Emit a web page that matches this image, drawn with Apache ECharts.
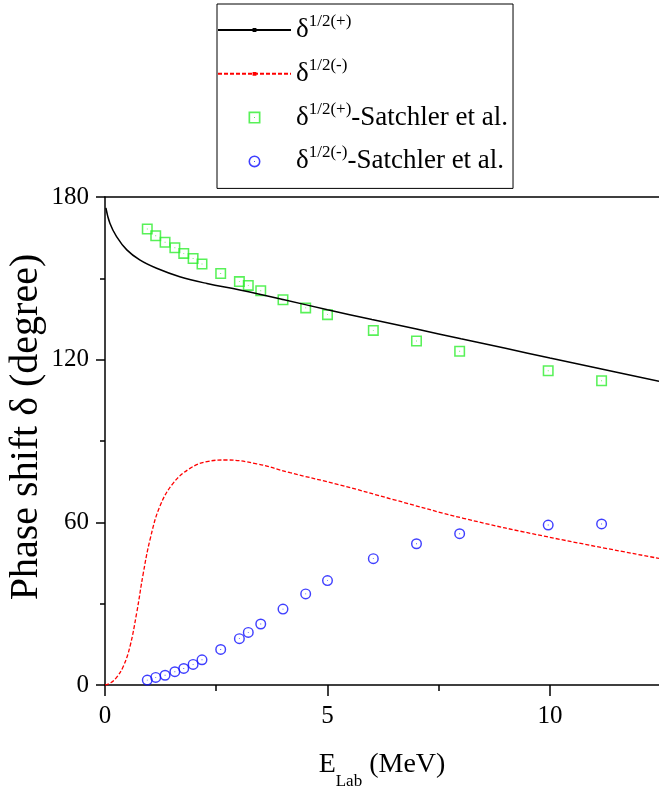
<!DOCTYPE html>
<html>
<head>
<meta charset="utf-8">
<script src="https://cdn.jsdelivr.net/npm/echarts@6/dist/echarts.min.js"></script>
<style>
  html, body { margin: 0; padding: 0; background: #fff; }
  #chart { width: 659px; height: 788px; }
</style>
</head>
<body>
<div id="chart"></div>
<script>
// Calculated phase shifts (degrees) versus lab energy (MeV)
const calcPlusE = [0.02, 0.11, 0.26, 0.49, 0.78, 1.16, 1.68, 2.29, 3.03, 4.0, 5.0, 6.0, 7.0, 8.0, 9.0, 10.0, 11.0, 12.45];
const calcPlusPhase = [176, 170.3, 165.4, 160.5, 156.8, 153.7, 150.6, 148.1, 145.7, 142.2, 138.4, 134.8, 131.3, 127.7, 124.2, 120.6, 117.1, 112.0];

const calcMinusE = [0, 0.13, 0.26, 0.41, 0.56, 0.71, 0.86, 1.01, 1.23, 1.53, 1.91, 2.29, 2.73, 3.41, 4.16, 5.28, 6.48, 8.05, 9.93, 12.45];
const calcMinusPhase = [0, 0.8, 2.8, 6.8, 14.1, 26.4, 41.2, 53.5, 65.8, 74.4, 79.9, 82.4, 83.0, 81.6, 78.3, 73.8, 68.4, 61.5, 54.7, 46.7];

// Satchler et al. phase shifts
const satchlerE = [0.95, 1.14, 1.35, 1.57, 1.77, 1.98, 2.18, 2.6, 3.02, 3.22, 3.5, 4.0, 4.51, 5.0, 6.03, 7.0, 7.97, 9.96, 11.16];
const satchlerPlus = [168.2, 165.7, 163.3, 161.3, 159.2, 157.3, 155.3, 151.8, 148.8, 147.4, 145.4, 142.1, 139.1, 136.6, 130.8, 126.9, 123.1, 115.9, 112.2];
const satchlerMinus = [1.8, 2.8, 3.6, 4.9, 6.1, 7.6, 9.3, 13.1, 17.1, 19.4, 22.5, 28.0, 33.6, 38.5, 46.6, 52.1, 55.8, 59.0, 59.4];

const seriesNames = ['δ1/2(+)', 'δ1/2(-)', 'δ1/2(+)-Satchler et al.', 'δ1/2(-)-Satchler et al.'];
const xMajorTicks = [0, 5, 10];
const xMinorTicks = [2.5, 7.5];

const FONT = 'Liberation Serif';
const INK = '#000';
const GREEN = '#2eee2e';
const BLUE = '#0f0fff';
const RED = '#ff0000';

// Open square / open circle with a small centre dot; tiny square for line series
const squareSymbol = 'path://M0,0H10V10H0Z M1.4,1.4V8.6H8.6V1.4Z M4.6,4.6H5.4V5.4H4.6Z';
const circleSymbol = 'path://M5,0A5,5 0 1,1 5,10A5,5 0 1,1 5,0Z M5,1.3A3.7,3.7 0 1,0 5,8.7A3.7,3.7 0 1,0 5,1.3Z M4.6,4.6H5.4V5.4H4.6Z';
const dotSymbol = 'path://M0,0Z M10,10Z M3,3H7V7H3Z';

const toPoints = (xs, ys) => xs.map((x, i) => [x, ys[i]]);

function legendLabel(name) {
  const m = name.match(/^δ(1\/2\([+-]\))(.*)$/);
  let s = '{g|δ}{s|' + m[1] + '}';
  if (m[2]) s += '{t|' + m[2] + '}';
  return s;
}

const axisLineStyle = { color: INK, width: 1.5 };
const tickFont = { fontFamily: FONT, fontSize: 25, color: INK };

const chart = echarts.init(document.getElementById('chart'), null, { renderer: 'canvas' });

chart.setOption({
  animation: false,
  backgroundColor: '#fff',
  grid: { left: 105, right: 0, top: 197, bottom: 103, containLabel: false, outerBoundsMode: 'none' },
  legend: {
    left: 217,
    top: 4,
    orient: 'vertical',
    align: 'left',
    itemWidth: 73,
    itemHeight: 12,
    itemGap: 13.3,
    padding: [9, 5, 13.5, 0],
    borderColor: INK,
    borderWidth: 1,
    selectedMode: false,
    data: [
      { name: seriesNames[0], itemStyle: { borderWidth: 0 } },
      { name: seriesNames[1], itemStyle: { borderWidth: 0 } },
      { name: seriesNames[2] },
      { name: seriesNames[3] }
    ],
    formatter: legendLabel,
    textStyle: {
      color: INK,
      fontFamily: FONT,
      fontSize: 27,
      rich: {
        g: { fontFamily: FONT, fontSize: 27, lineHeight: 34, color: INK },
        s: { fontFamily: FONT, fontSize: 17, lineHeight: 13, verticalAlign: 'top', color: INK },
        t: { fontFamily: FONT, fontSize: 27, lineHeight: 34, color: INK }
      }
    }
  },
  xAxis: [
    {
      type: 'value',
      position: 'bottom',
      min: 0,
      max: 12.45,
      interval: 5,
      axisLine: { show: true, lineStyle: axisLineStyle },
      axisTick: { show: true, length: 11, customValues: xMajorTicks, lineStyle: axisLineStyle },
      minorTick: { show: false },
      axisLabel: Object.assign({ margin: 19, customValues: xMajorTicks }, tickFont),
      splitLine: { show: false },
      name: '{m|E}{sub|Lab}{m| (MeV)}',
      nameLocation: 'middle',
      nameGap: 53.5,
      nameMoveOverlap: false,
      nameTextStyle: {
        color: INK,
        fontFamily: FONT,
        rich: {
          m: { fontFamily: FONT, fontSize: 28, lineHeight: 52, color: INK },
          sub: { fontFamily: FONT, fontSize: 17, lineHeight: 17, verticalAlign: 'bottom', color: INK }
        }
      }
    },
    {
      type: 'value',
      position: 'bottom',
      min: 0,
      max: 12.45,
      interval: 5,
      axisLine: { show: false },
      axisTick: { show: true, length: 6, customValues: xMinorTicks, lineStyle: axisLineStyle },
      axisLabel: { show: false },
      splitLine: { show: false }
    },
    {
      type: 'value',
      position: 'top',
      min: 0,
      max: 12.45,
      interval: 5,
      axisLine: { show: true, lineStyle: axisLineStyle },
      axisTick: { show: false },
      axisLabel: { show: false },
      splitLine: { show: false }
    }
  ],
  yAxis: {
    type: 'value',
    min: 0,
    max: 180,
    interval: 60,
    axisLine: { show: true, lineStyle: axisLineStyle },
    axisTick: { show: true, length: 9, lineStyle: axisLineStyle },
    minorTick: { show: true, splitNumber: 2, length: 5, lineStyle: axisLineStyle },
    axisLabel: Object.assign({ margin: 16 }, tickFont),
    splitLine: { show: false },
    minorSplitLine: { show: false },
    name: 'Phase shift δ (degree)',
    nameLocation: 'middle',
    nameGap: 59,
    nameMoveOverlap: false,
    nameTextStyle: { color: INK, fontFamily: FONT, fontSize: 40, padding: [0, 0, 0, 28] }
  },
  series: [
    {
      name: seriesNames[0],
      type: 'line',
      data: toPoints(calcPlusE, calcPlusPhase),
      showSymbol: false,
      symbol: dotSymbol,
      smooth: 0.4,
      lineStyle: { color: INK, width: 1.5 },
      itemStyle: { color: INK },
      silent: true
    },
    {
      name: seriesNames[1],
      type: 'line',
      data: toPoints(calcMinusE, calcMinusPhase),
      showSymbol: false,
      symbol: dotSymbol,
      smooth: 0.4,
      lineStyle: { color: RED, width: 1.3, type: [4, 2] },
      itemStyle: { color: RED },
      silent: true
    },
    {
      name: seriesNames[2],
      type: 'scatter',
      data: toPoints(satchlerE, satchlerPlus),
      symbol: squareSymbol,
      symbolSize: 11,
      itemStyle: { color: GREEN },
      silent: true
    },
    {
      name: seriesNames[3],
      type: 'scatter',
      data: toPoints(satchlerE, satchlerMinus),
      symbol: circleSymbol,
      symbolSize: 11,
      itemStyle: { color: BLUE },
      silent: true
    }
  ]
});
</script>
</body>
</html>
